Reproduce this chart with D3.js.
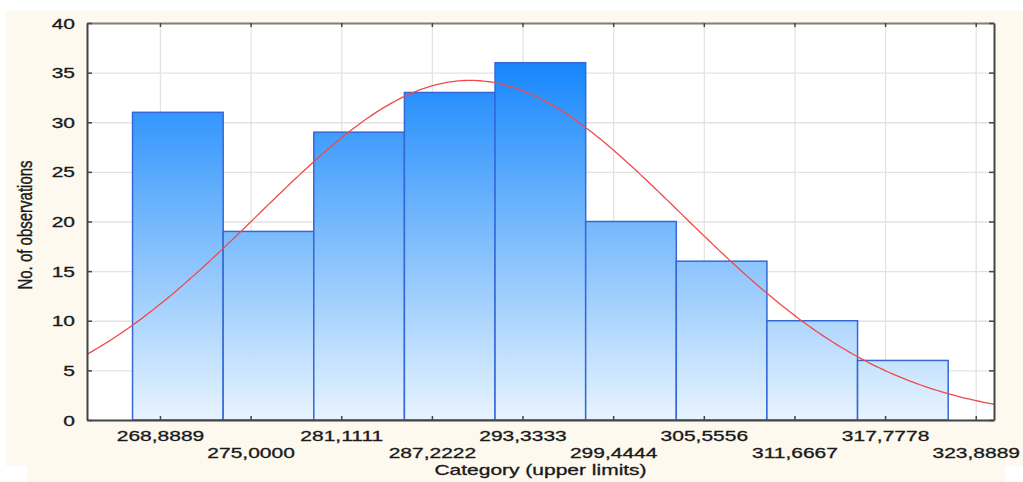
<!DOCTYPE html>
<html>
<head>
<meta charset="utf-8">
<script src="https://cdn.jsdelivr.net/npm/d3@7/dist/d3.min.js"></script>
<style>
  html, body { margin: 0; padding: 0; background: #ffffff; }
  svg { display: block; font-family: "Liberation Sans", Arial, sans-serif; }
  .lbl { fill: #1a1a1a; stroke: #1a1a1a; stroke-width: 0.3px; }
</style>
</head>
<body>
<svg id="chart" width="1023" height="482"></svg>
<script>
// Histogram counts per class
const counts = [31, 19, 29, 33, 36, 20, 16, 10, 6];
// Lower bound of each class
const binLower = [267.04, 273.15, 279.26, 285.37, 291.48, 297.59, 303.70, 309.81, 315.92];
const binWidth = 6.1111;
// Category labels (upper limits) on the x axis
const tickLabels = ["268,8889", "275,0000", "281,1111", "287,2222", "293,3333",
                    "299,4444", "305,5556", "311,6667", "317,7778", "323,8889"];
const yTicks = [0, 5, 10, 15, 20, 25, 30, 35, 40];
// Parameters of the fitted normal curve
const fitMean = 289.8;
const fitSD = 14.25;
const xTitle = "Category (upper limits)";
const yTitle = "No. of observations";

const W = 1023, H = 482;
const m = { left: 87, right: 994, top: 23, bottom: 420 };
const stretch = 1.5; // wide horizontal glyph aspect of the labels

const svg = d3.select("#chart");

// page panel
svg.append("rect").attr("x", 6).attr("y", 11).attr("width", W - 6).attr("height", 455).attr("fill", "#fdf9ef");
svg.append("rect").attr("x", 27).attr("y", 466).attr("width", 978).attr("height", 16).attr("fill", "#fdf9ef");

const tickValues = tickLabels.map(s => +s.replace(",", "."));
const x = d3.scaleLinear().domain([263.97, 325.12]).range([m.left, m.right]);
const y = d3.scaleLinear().domain([0, 40]).range([m.bottom, m.top]);

// plot area
svg.append("rect").attr("x", m.left).attr("y", m.top)
  .attr("width", m.right - m.left).attr("height", m.bottom - m.top).attr("fill", "#ffffff");

// grid
svg.append("g").attr("transform", `translate(0,${m.bottom})`)
  .call(d3.axisBottom(x).tickValues(tickValues).tickSize(-(m.bottom - m.top)).tickFormat(""))
  .call(g => g.select(".domain").remove())
  .call(g => g.selectAll("line").attr("stroke", "#e3e3e3").attr("stroke-width", 1.3));
svg.append("g").attr("transform", `translate(${m.left},0)`)
  .call(d3.axisLeft(y).tickValues(yTicks).tickSize(-(m.right - m.left)).tickFormat(""))
  .call(g => g.select(".domain").remove())
  .call(g => g.selectAll("line").attr("stroke", "#e3e3e3").attr("stroke-width", 1.3));

// bar gradient
const defs = svg.append("defs");
const grad = defs.append("linearGradient").attr("id", "barFill")
  .attr("gradientUnits", "userSpaceOnUse")
  .attr("x1", 0).attr("x2", 0).attr("y1", y(36)).attr("y2", y(0));
grad.append("stop").attr("offset", 0).attr("stop-color", "#1787fc");
grad.append("stop").attr("offset", 1).attr("stop-color", "#e8f4fe");

defs.append("clipPath").attr("id", "plotClip").append("rect")
  .attr("x", m.left).attr("y", m.top).attr("width", m.right - m.left).attr("height", m.bottom - m.top);

// bars
svg.append("g").selectAll("rect").data(counts).join("rect")
  .attr("x", (d, i) => x(binLower[i]))
  .attr("y", d => y(d))
  .attr("width", (d, i) => x(binLower[i] + binWidth) - x(binLower[i]))
  .attr("height", d => y(0) - y(d))
  .attr("fill", "url(#barFill)")
  .attr("stroke", "#3468d8")
  .attr("stroke-width", 1.5);

// fitted normal curve
const total = d3.sum(counts);
const pdf = v => Math.exp(-0.5 * ((v - fitMean) / fitSD) ** 2) / (fitSD * Math.sqrt(2 * Math.PI));
const curvePts = d3.range(0, 301).map(k => {
  const v = x.domain()[0] + (x.domain()[1] - x.domain()[0]) * k / 300;
  return [v, total * binWidth * pdf(v)];
});
svg.append("path").datum(curvePts)
  .attr("clip-path", "url(#plotClip)")
  .attr("fill", "none").attr("stroke", "#f04a4a").attr("stroke-width", 1.3)
  .attr("d", d3.line().x(d => x(d[0])).y(d => y(d[1])));

// frame with inner ticks
const frameColor = "#454545";
const bottomAxis = svg.append("g").attr("transform", `translate(0,${m.bottom})`)
  .call(d3.axisBottom(x).tickValues(tickValues).tickSizeInner(-4).tickSizeOuter(0)
        .tickFormat((d, i) => tickLabels[i]));
bottomAxis.select(".domain").attr("stroke", frameColor).attr("stroke-width", 2);
bottomAxis.selectAll(".tick line").attr("stroke", frameColor).attr("stroke-width", 1.5);
bottomAxis.selectAll(".tick text")
  .attr("class", "lbl")
  .attr("y", (d, i) => i % 2 === 0 ? 21 : 38).attr("dy", 0)
  .attr("font-size", 14)
  .attr("font-family", "Liberation Sans, Arial, sans-serif")
  .attr("transform", `scale(${stretch},1)`);

const topAxis = svg.append("g").attr("transform", `translate(0,${m.top})`)
  .call(d3.axisTop(x).tickValues(tickValues).tickSizeInner(-4).tickSizeOuter(0).tickFormat(""));
topAxis.select(".domain").attr("stroke", "#808080").attr("stroke-width", 2.2);
topAxis.selectAll(".tick line").attr("stroke", frameColor).attr("stroke-width", 1.5);

const leftAxis = svg.append("g").attr("transform", `translate(${m.left},0)`)
  .call(d3.axisLeft(y).tickValues(yTicks).tickSizeInner(-5).tickSizeOuter(0).tickFormat(d3.format("d")));
leftAxis.select(".domain").attr("stroke", frameColor).attr("stroke-width", 2);
leftAxis.selectAll(".tick line").attr("stroke", frameColor).attr("stroke-width", 1.5);
leftAxis.selectAll(".tick text")
  .attr("class", "lbl")
  .attr("x", -12 / stretch).attr("dy", "0.36em")
  .attr("font-size", 14)
  .attr("font-family", "Liberation Sans, Arial, sans-serif")
  .attr("transform", `scale(${stretch},1)`);

const rightAxis = svg.append("g").attr("transform", `translate(${m.right},0)`)
  .call(d3.axisRight(y).tickValues(yTicks).tickSizeInner(-5).tickSizeOuter(0).tickFormat(""));
rightAxis.select(".domain").attr("stroke", frameColor).attr("stroke-width", 2);
rightAxis.selectAll(".tick line").attr("stroke", frameColor).attr("stroke-width", 1.5);

// axis titles
svg.append("text").attr("class", "lbl")
  .attr("transform", `translate(${(m.left + m.right) / 2},475) scale(${stretch},1)`)
  .attr("text-anchor", "middle").attr("font-size", 14)
  .text(xTitle);

svg.append("text").attr("class", "lbl")
  .attr("transform", `translate(32,225) scale(1.3,1) rotate(-90)`)
  .attr("text-anchor", "middle").attr("font-size", 15)
  .text(yTitle);
</script>
</body>
</html>
